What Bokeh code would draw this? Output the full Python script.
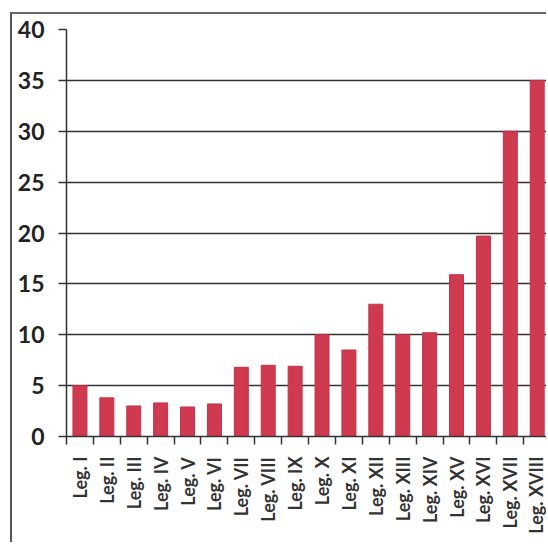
import math
from bokeh.plotting import figure
from bokeh.models import FixedTicker, Range1d
from bokeh.embed import file_html
from bokeh.resources import INLINE

categories = ["Leg. I", "Leg. II", "Leg. III", "Leg. IV", "Leg. V", "Leg. VI",
              "Leg. VII", "Leg. VIII", "Leg. IX", "Leg. X", "Leg. XI", "Leg. XII",
              "Leg. XIII", "Leg. XIV", "Leg. XV", "Leg. XVI", "Leg. XVII", "Leg. XVIII"]
values = [5.0, 3.8, 3.0, 3.3, 2.9, 3.2, 6.8, 7.0, 6.9, 10.0, 8.5, 13.0,
          10.0, 10.2, 15.9, 19.7, 30.0, 35.0]
y_ticks = [0, 5, 10, 15, 20, 25, 30, 35, 40]

positions = list(range(1, len(categories) + 1))
boundaries = [p - 0.5 for p in positions] + [len(categories) + 0.5]

p = figure(width=536, height=530, output_backend="svg", toolbar_location=None,
           x_range=Range1d(0.5, 18.42), y_range=Range1d(0, 40),
           min_border_left=54, min_border_top=15, min_border_bottom=108,
           min_border_right=0)
p.styles = {"border-top": "2px solid #666", "border-left": "2px solid #555",
            "margin-top": "12px", "margin-left": "10px"}
p.outline_line_color = None
p.background_fill_color = "white"
p.border_fill_color = "white"

p.vbar(x=positions, top=values, width=0.52, fill_color="#cf3a50",
       line_color="#c23348", line_width=1)

# y axis
p.yaxis.ticker = FixedTicker(ticks=y_ticks)
p.yaxis.major_label_text_font = "Lato"
p.yaxis.major_label_text_font_style = "bold"
p.yaxis.major_label_text_font_size = "23px"
p.yaxis.major_label_text_color = "#222222"
p.yaxis.major_label_standoff = 14
p.yaxis.major_tick_out = 8
p.yaxis.major_tick_in = 0
p.yaxis.minor_tick_out = 0
p.yaxis.minor_tick_in = 0
p.yaxis.axis_line_color = "#333333"
p.yaxis.axis_line_width = 1.5
p.yaxis.major_tick_line_color = "#333333"
p.yaxis.major_tick_line_width = 1.5

# x axis
p.xaxis.ticker = FixedTicker(ticks=positions, minor_ticks=boundaries)
p.xaxis.major_label_overrides = {pos: c for pos, c in zip(positions, categories)}
p.xaxis.major_label_orientation = math.pi / 2
p.xaxis.major_label_text_font = "Lato"
p.xaxis.major_label_text_font_style = "bold"
p.xaxis.major_label_text_font_size = "18px"
p.xaxis.major_label_text_color = "#333333"
p.xaxis.major_label_standoff = 12
p.xaxis.major_tick_out = 0
p.xaxis.major_tick_in = 0
p.xaxis.minor_tick_out = 8
p.xaxis.minor_tick_in = 0
p.xaxis.minor_tick_line_color = "#333333"
p.xaxis.minor_tick_line_width = 1.5
p.xaxis.axis_line_color = "#333333"
p.xaxis.axis_line_width = 1.5

p.xgrid.visible = False
p.ygrid.ticker = FixedTicker(ticks=y_ticks)
p.ygrid.grid_line_color = "#333333"
p.ygrid.grid_line_width = 1.5

open("out.html", "w").write(file_html(p, INLINE))
